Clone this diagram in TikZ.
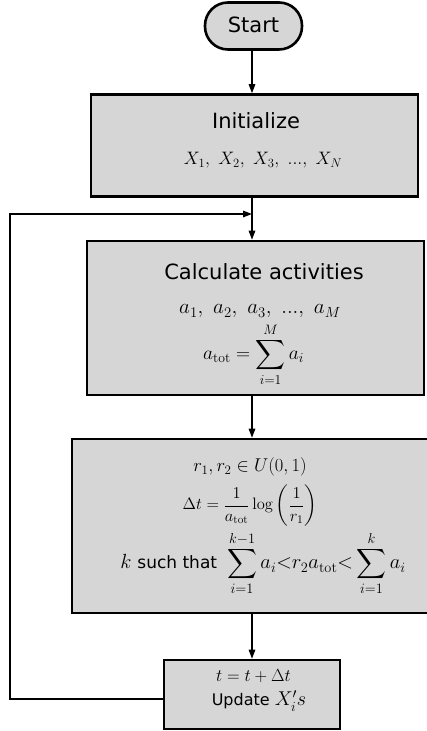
\RequirePackage{fix-cm}
\documentclass[tikz,border=0pt]{standalone}
\usepackage{amsmath}
\usepackage[no-math]{fontspec}
\newfontfamily\dv{DejaVu Sans}
\usetikzlibrary{arrows.meta}
\definecolor{boxgray}{RGB}{214,214,214}
\tikzset{
  box/.style={draw, line width=2.6pt, fill=boxgray, rectangle, inner sep=0pt},
  arr/.style={line width=1.4pt, -{Triangle[length=9pt,width=6.5pt]}},
  txt/.style={anchor=base, inner sep=0pt},
}
\newcommand{\fs}[1]{\fontsize{#1}{#1}\selectfont}
\begin{document}
\begin{tikzpicture}[x=1pt,y=1pt]
\useasboundingbox (0,0) rectangle (427,731);
% boxes
\node[box, rounded corners=23pt, minimum width=97pt, minimum height=47pt] (start) at (253.5,705) {};
\node[box, minimum width=327pt, minimum height=102pt] (init) at (254.5,585.5) {};
\node[box, minimum width=337pt, minimum height=154pt] (calc) at (255.5,413) {};
\node[box, minimum width=365pt, minimum height=174pt] (mc) at (254.5,205) {};
\node[box, minimum width=176pt, minimum height=69pt] (update) at (252,36.5) {};
% texts
\node[txt] (starttxt) at (253.5,698) {\dv\fs{21}Start};
\node[txt] (inittxt) at (256,602) {\dv\fs{21}Initialize};
\node[txt] (xline) at (263,566) {\fs{18}$X_1,\ X_2,\ X_3,\ ...,\ X_N$};
\node[txt] (calctxt) at (264,451) {\dv\fs{21}Calculate activities};
\node[txt] (aline) at (260,417) {\fs{21}$a_1,\ a_2,\ a_3,\ ...,\ a_M$};
\node[txt] (atot) at (253.5,371) {\fs{19.5}$\displaystyle a_{\text{tot}} = \sum_{i=1}^{M} a_i$};
\node[txt] (rline) at (250,259) {\fs{18.5}$r_1, r_2 \in U(0,1)$};
\node[txt] (dtline) at (250,221) {\fs{16.5}$\Delta t = \dfrac{1}{a_{\text{tot}}}\log\left(\dfrac{1}{r_1}\right)$};
\node[txt] (kline) at (263,162) {\fs{20.5}$k$\hspace{6pt}{\dv\fs{17}such that}\hspace{10pt}$\displaystyle\sum_{i=1}^{k-1} a_i{<}r_2a_{\text{tot}}{<}\sum_{i=1}^{k}a_i$};
\node[txt] (tline) at (253.5,49) {\fs{17.5}$t = t + \Delta t$};
\node[txt] (upd) at (259,25) {\dv\fs{16}Update \fs{20}$X_i's$};
% connectors
\coordinate (ax) at (252,0);
\coordinate (loopx) at (10,0);
\coordinate (loopy) at (0,517);
\draw[arr] (start.south -| ax) -- (init.north -| ax);
\draw[arr] (init.south -| ax) -- (calc.north -| ax);
\draw[arr] (calc.south -| ax) -- (mc.north -| ax);
\draw[arr] (mc.south -| ax) -- (update.north -| ax);
\draw[arr] ([yshift=-4.5pt]update.west) -| (loopx |- loopy) -- (ax |- loopy);
\end{tikzpicture}
\end{document}
